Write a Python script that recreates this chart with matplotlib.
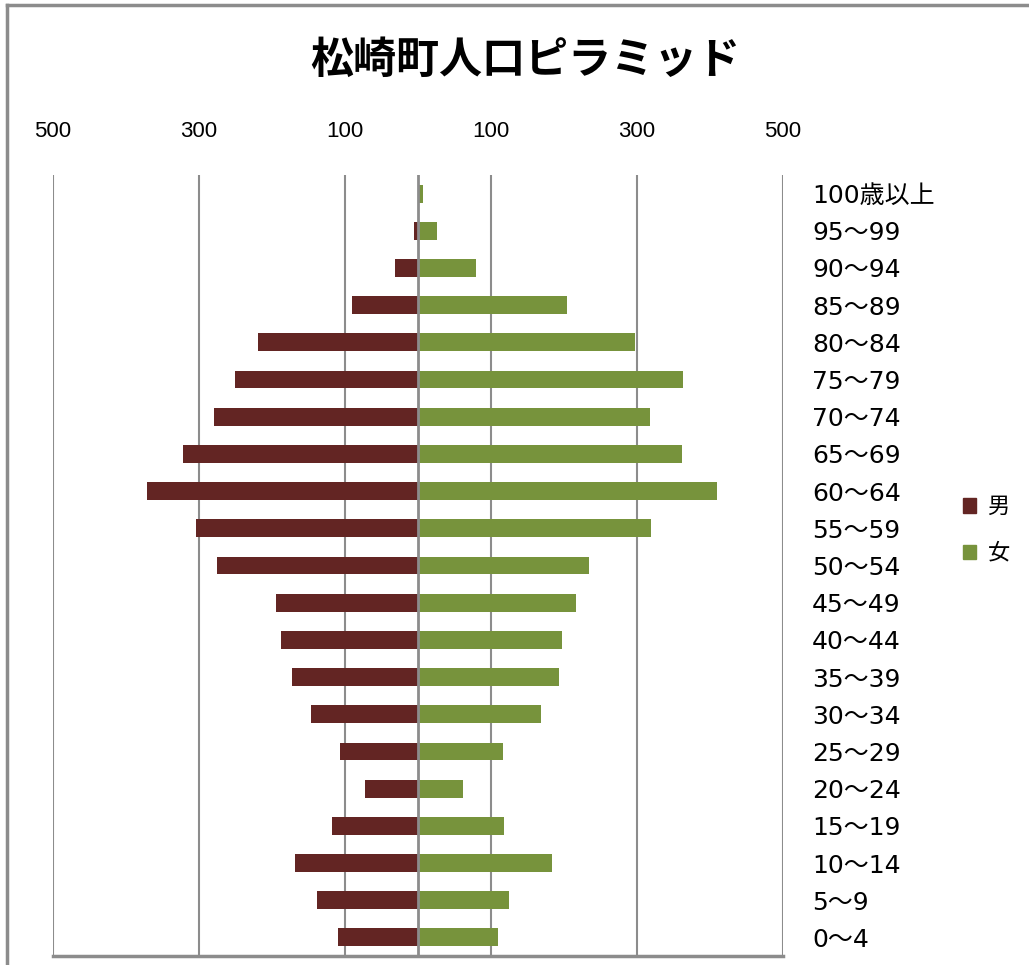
import matplotlib.pyplot as plt
from matplotlib.patches import Patch
import numpy as np

plt.rcParams['font.family'] = ['Noto Sans CJK JP', 'DejaVu Sans']

# data
ages = ['100歳以上', '95～99', '90～94', '85～89', '80～84', '75～79', '70～74',
        '65～69', '60～64', '55～59', '50～54', '45～49', '40～44', '35～39',
        '30～34', '25～29', '20～24', '15～19', '10～14', '5～9', '0～4']
male = [0, 5, 32, 91, 219, 250, 279, 322, 371, 304, 275, 195, 188, 173,
        147, 107, 72, 118, 168, 139, 110]
female = [7, 26, 80, 204, 297, 363, 318, 362, 410, 319, 234, 216, 197, 193,
          168, 116, 62, 118, 183, 124, 109]
xticks = [-500, -300, -100, 100, 300, 500]
xticklabels = ['500', '300', '100', '100', '300', '500']

c_m = '#632523'
c_f = '#77933C'
grey = '#8c8c8c'

fig = plt.figure(figsize=(10.29, 9.65), dpi=100)
ax = fig.add_axes([53/1029, 1-956/965, 730/1029, 781/965])

y = np.arange(len(ages))[::-1]
ax.barh(y, -np.array(male), height=0.48, color=c_m, zorder=3)
ax.barh(y, female, height=0.48, color=c_f, zorder=3)

ax.set_xlim(-500, 500)
ax.set_ylim(-0.5, len(ages) - 0.5)
for xv in xticks:
    ax.axvline(xv, color=grey, lw=1.5, zorder=1)
ax.axvline(0, color=grey, lw=2, zorder=4)

for s in ['top', 'right', 'left']:
    ax.spines[s].set_visible(False)
ax.spines['bottom'].set_color(grey)
ax.spines['bottom'].set_linewidth(2.5)

ax.xaxis.tick_top()
ax.set_xticks(xticks)
ax.set_xticklabels(xticklabels, fontsize=16, family=['Liberation Sans', 'DejaVu Sans'])
ax.tick_params(axis='x', length=0, pad=24)

ax.yaxis.tick_right()
ax.set_yticks(y)
ax.set_yticklabels(ages, fontsize=18, family=['DejaVu Sans', 'Noto Sans CJK JP'])
ax.tick_params(axis='y', length=0, pad=21)

fig.text(0.51, 1-60/965, '松崎町人口ピラミッド', fontsize=31, fontweight='bold',
         ha='center', va='center')

handles = [Patch(color=c_m, label='男'), Patch(color=c_f, label='女')]
fig.legend(handles=handles, loc='center left', bbox_to_anchor=(943/1029, 1-530/965),
           frameon=False, fontsize=16, handlelength=0.6, handleheight=0.6,
           handletextpad=0.5, labelspacing=1.05)

# outer frame
fig.add_artist(plt.Line2D([7/1029, 7/1029], [0, 1-5/965], transform=fig.transFigure,
                          color=grey, lw=2.5))
fig.add_artist(plt.Line2D([7/1029, 1], [1-5/965, 1-5/965], transform=fig.transFigure,
                          color=grey, lw=2.5))

fig.savefig('out.png', dpi=100)
